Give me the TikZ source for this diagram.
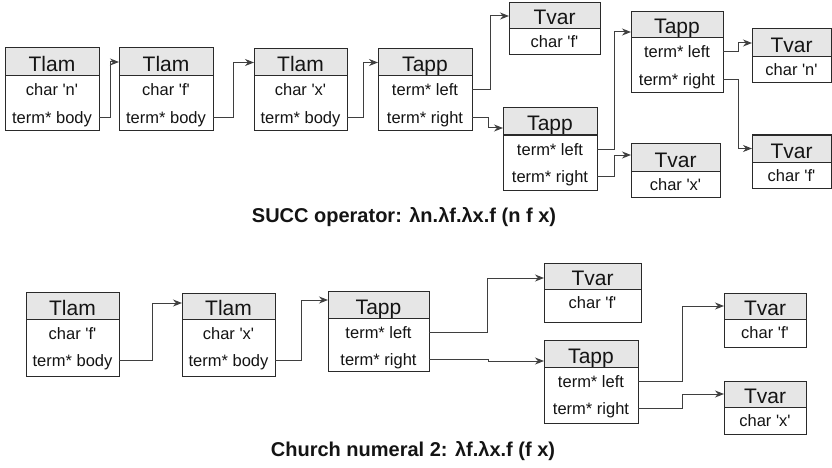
\documentclass[tikz,border=0pt]{standalone}
\usepackage{fontspec}
\setmainfont{Liberation Sans}
\usetikzlibrary{arrows.meta}
\definecolor{hdrfill}{HTML}{E6E6E6}
\definecolor{lnc}{HTML}{2A2A2A}
\definecolor{txc}{HTML}{141414}
\newcommand\sq{\textquotesingle}
\tikzset{
  hdr/.style={draw=lnc, fill=hdrfill, line width=1pt, inner sep=0pt, outer sep=0pt,
    font=\fontsize{21}{24}\selectfont, text=txc},
  bdy/.style={draw=lnc, fill=white, line width=1pt, inner sep=0pt, outer sep=0pt},
  rowtxt/.style={inner sep=0pt, outer sep=0pt, text height=12pt, text depth=0pt,
    font=\fontsize{16.5}{19}\selectfont, text=txc},
  conn/.style={draw=lnc!90, line width=1pt, -{Stealth[length=9pt,width=7pt]}},
  capt/.style={font=\fontsize{20}{24}\selectfont\bfseries, text=txc, inner sep=0pt}
}
% name, xl, xr, ytop, yheaderbottom, ybottom, title, row1, row2
\newcommand\mkbox[9]{%
  \pgfmathsetmacro\bxc{(#2+#3)/2}%
  \pgfmathsetmacro\bw{#3-#2}%
  \pgfmathsetmacro\bhh{#5-#4}%
  \pgfmathsetmacro\bbh{#6-#5}%
  \pgfmathsetmacro\bth{#5-#4-8}%
  \node[hdr, minimum width=\bw pt, minimum height=\bhh pt, text height=\bth pt, text depth=0pt, anchor=north] (#1h) at (\bxc,#4) {#7};
  \node[bdy, minimum width=\bw pt, minimum height=\bbh pt, anchor=north] (#1b) at (\bxc,#5) {};
  \node[rowtxt, anchor=base] (#1r1) at (\bxc,#5+20) {#8};
  \node[rowtxt, anchor=base] (#1r2) at (\bxc,#5+47.5) {#9};
}
% name, xl, xr, ytop, yheaderbottom, ybottom, title, row1
\newcommand\mkvar[8]{%
  \pgfmathsetmacro\bxc{(#2+#3)/2}%
  \pgfmathsetmacro\bw{#3-#2}%
  \pgfmathsetmacro\bhh{#5-#4}%
  \pgfmathsetmacro\bbh{#6-#5}%
  \pgfmathsetmacro\bth{#5-#4-8}%
  \node[hdr, minimum width=\bw pt, minimum height=\bhh pt, text height=\bth pt, text depth=0pt, anchor=north] (#1h) at (\bxc,#4) {#7};
  \node[bdy, minimum width=\bw pt, minimum height=\bbh pt, anchor=north] (#1b) at (\bxc,#5) {};
  \node[rowtxt, anchor=base] (#1r1) at (\bxc,#5+19) {#8};
}
\begin{document}
\begin{tikzpicture}[x=1pt,y=-1pt]
\useasboundingbox (0,0) rectangle (832,468);
% ---------- SUCC operator ----------
\mkbox{A1}{5}{99}{48}{76}{131}{Tlam}{char \sq n\sq}{term* body}
\mkbox{A2}{119}{213}{48}{76}{131}{Tlam}{char \sq f\sq}{term* body}
\mkbox{A3}{254}{347}{49}{76}{131}{Tlam}{char \sq x\sq}{term* body}
\mkbox{A4}{378}{472}{49}{76}{131}{Tapp}{term* left}{term* right}
\mkvar{A5}{509}{600}{3}{29}{55}{Tvar}{char \sq f\sq}
\mkbox{A6}{503}{597}{108}{135}{190}{Tapp}{term* left}{term* right}
\mkbox{A7}{631}{723}{12}{38}{93}{Tapp}{term* left}{term* right}
\mkvar{A8}{631}{720}{143}{171}{197}{Tvar}{char \sq x\sq}
\mkvar{A9}{752}{831}{29}{57}{83}{Tvar}{char \sq n\sq}
\mkvar{A10}{752}{831}{135}{162}{188}{Tvar}{char \sq f\sq}

\draw[conn] (A1b.east |- A1r2) -- ++(11,0) |- (A2h.west);
\draw[conn] (A2b.east |- A2r2) -- ++(20,0) |- (A3h.west);
\draw[conn] (A3b.east |- A3r2) -- ++(16,0) |- (A4h.west);
\draw[conn] (A4b.east |- A4r1) -- ++(18,0) |- (A5h.west);
\draw[conn] (A4b.east |- A4r2) -- ++(16,0) |- ([yshift=-6.5pt]A6h.west);
\draw[conn] (A6b.east |- A6r1) -- ++(17,0) |- ([yshift=-7pt]A7h.west);
\draw[conn] (A6b.east |- A6r2) -- ++(17,0) |- ([yshift=2pt]A8h.west);
\draw[conn] (A7b.east |- A7r1) -- ++(15,0) |- (A9h.west);
\draw[conn] (A7b.east |- A7r2) -- ++(15,0) |- (A10h.west);

\node[capt, anchor=base] (cap1) at (404,222) {SUCC operator: λn.λf.λx.f (n f x)};

% ---------- Church numeral 2 ----------
\mkbox{B1}{26}{119}{292}{319}{376}{Tlam}{char \sq f\sq}{term* body}
\mkbox{B2}{182}{275}{293}{319}{376}{Tlam}{char \sq x\sq}{term* body}
\mkbox{B3}{328}{429}{291}{318}{371}{Tapp}{term* left}{term* right}
\mkvar{B4}{544}{641}{263}{289}{322}{Tvar}{char \sq f\sq}
\mkbox{B5}{544}{638}{340}{367}{423}{Tapp}{term* left}{term* right}
\mkvar{B6}{724}{806}{293}{319}{347}{Tvar}{char \sq f\sq}
\mkvar{B7}{724}{806}{381}{407}{434}{Tvar}{char \sq x\sq}

\draw[conn] (B1b.east |- B1r2) -- ++(33,0) |- ([yshift=3pt]B2h.west);
\draw[conn] (B2b.east |- B2r2) -- ++(26,0) |- ([yshift=4.5pt]B3h.west);
\draw[conn] (B3b.east |- B3r1) -- ++(58,0) |- ([yshift=-2pt]B4h.west);
\draw[conn] (B3b.east |- B3r2) -- ++(59,0) |- ([yshift=-7.5pt]B5h.west);
\draw[conn] (B5b.east |- B5r1) -- ++(44,0) |- (B6h.west);
\draw[conn] (B5b.east |- B5r2) -- ++(44,0) |- (B7h.west);

\node[capt, anchor=base] (cap2) at (413,456) {Church numeral 2: λf.λx.f (f x)};
\end{tikzpicture}
\end{document}
